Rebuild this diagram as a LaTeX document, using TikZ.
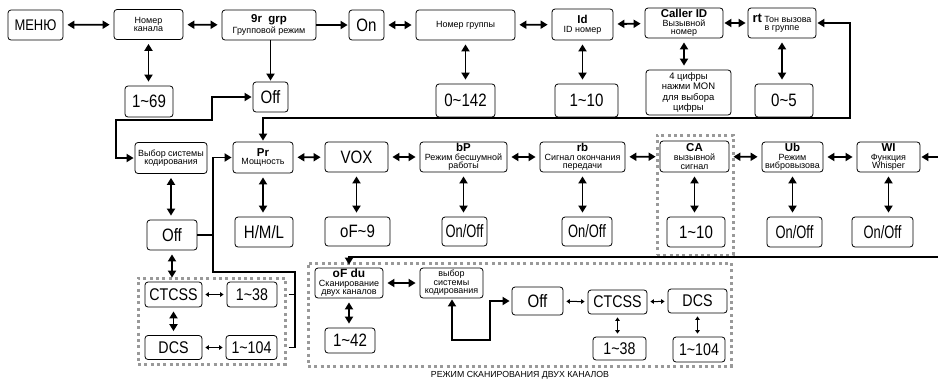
\documentclass[tikz,border=0pt]{standalone}
\usepackage{fontspec}
\setmainfont{Liberation Sans}
\newfontfamily\nf[FakeStretch=0.84]{Liberation Sans}
\newfontfamily\nfn[FakeStretch=0.72]{Liberation Sans}
\usetikzlibrary{arrows.meta}
\newcommand\tl{\char"7E\relax}
\tikzset{
  box/.style={draw, rounded corners=3bp, line width=0.8bp, inner sep=0pt, align=center},
  val/.style={box, font=\nf\fontsize{18}{18}\selectfont},
  nval/.style={box, font=\nfn\fontsize{18}{18}\selectfont},
  sval/.style={box, font=\nf\fontsize{17}{17}\selectfont},
  lbl/.style={box, font=\fontsize{9}{8.6}\selectfont},
  grpbox/.style={draw=gray!80, line width=3bp, dash pattern=on 3bp off 3.3bp, inner sep=0pt},
  conn/.style={line width=1.8bp},
  bi/.style={conn, {Triangle[length=7bp,width=8bp]}-{Triangle[length=7bp,width=8bp]}, shorten <=4bp, shorten >=4bp},
  one/.style={conn, -{Triangle[length=7bp,width=8bp]}, shorten >=1bp},
  sm/.style={line width=1bp, {Triangle[length=3.5bp,width=4.5bp]}-{Triangle[length=3.5bp,width=4.5bp]}, shorten <=3bp, shorten >=3bp},
}
\newcommand\ttl[1]{{\fontsize{11.5}{10}\selectfont\bfseries #1}}
\begin{document}
\begin{tikzpicture}[x=1bp,y=-1bp]
\useasboundingbox[fill=white] (0,0) rectangle (938,379);
% dashed groups
\node[grpbox, minimum width=147bp, minimum height=86bp] (grpL) at (211.5,321) {};
\node[grpbox, minimum width=423bp, minimum height=103bp] (grpB) at (519.5,314.5) {};
\node[grpbox, minimum width=76bp, minimum height=120bp] (grpC) at (695,195) {};
\node[font=\fontsize{8.8}{8}\selectfont, inner sep=0pt] (lblB) at (520,375) {РЕЖИМ СКАНИРОВАНИЯ ДВУХ КАНАЛОВ};
% top row
\node[val, font=\nf\fontsize{15.5}{15}\selectfont, minimum width=55bp, minimum height=30bp] (menu) at (35.5,25) {МЕНЮ};
\node[lbl, minimum width=69bp, minimum height=30bp] (kanal) at (148.5,24.5) {Номер\\канала};
\node[lbl, minimum width=94bp, minimum height=30bp] (grp) at (269,25) {\ttl{9r\ \ grp}\\[1bp]Групповой режим};
\node[val, minimum width=35bp, minimum height=30bp] (on) at (366.5,25) {On};
\node[lbl, minimum width=99bp, minimum height=30bp] (ngr) at (465.5,25) {Номер группы};
\node[lbl, minimum width=61bp, minimum height=31bp] (id) at (582.5,24.5) {\ttl{Id}\\ID номер};
\node[lbl, minimum width=78bp, minimum height=30bp] (caller) at (684,23) {\ttl{Caller ID}\\Вызывной\\номер};
\node[lbl, minimum width=68bp, minimum height=30bp] (rt) at (782,23) {{\fontsize{13}{11}\selectfont\bfseries rt} Тон вызова\\в группе};
% top values
\node[val, minimum width=48bp, minimum height=31bp] (v169) at (149,101.5) {1\tl69};
\node[val, minimum width=35bp, minimum height=30bp] (off1) at (270.5,97) {Off};
\node[val, minimum width=59bp, minimum height=33bp] (v0142) at (465.5,100.5) {0\tl142};
\node[val, minimum width=63bp, minimum height=33bp] (v110) at (586.5,100.5) {1\tl10};
\node[lbl, font=\fontsize{9.5}{10.5}\selectfont, minimum width=85bp, minimum height=45bp] (cifry) at (688.5,92.5) {4 цифры\\нажми MON\\для выбора\\цифры};
\node[val, minimum width=58bp, minimum height=33bp] (v05) at (784,100.5) {0\tl5};
% second row
\node[lbl, minimum width=72bp, minimum height=31bp] (vybor) at (171,158) {Выбор системы\\кодирования};
\node[lbl, minimum width=60bp, minimum height=31bp] (pr) at (263,157.5) {\ttl{Pr}\\Мощность};
\node[val, minimum width=63bp, minimum height=30bp] (vox) at (356.5,157) {VOX};
\node[lbl, minimum width=87bp, minimum height=30bp] (bp) at (463.5,157) {\ttl{bP}\\Режим бесшумной\\работы};
\node[lbl, minimum width=85bp, minimum height=30bp] (rb) at (582.5,157) {\ttl{rb}\\Сигнал окончания\\передачи};
\node[lbl, minimum width=69bp, minimum height=31bp] (ca) at (694.5,156.5) {\ttl{CA}\\вызывной\\сигнал};
\node[lbl, minimum width=61bp, minimum height=30bp] (ub) at (792.5,157) {\ttl{Ub}\\Режим\\вибровызова};
\node[lbl, minimum width=63bp, minimum height=30bp] (wi) at (888.5,157) {\ttl{WI}\\Функция\\Whisper};
% second row values
\node[val, minimum width=50bp, minimum height=30bp] (off2) at (172,235) {Off};
\node[val, minimum width=58bp, minimum height=30bp] (hml) at (264,232) {H/M/L};
\node[val, minimum width=65bp, minimum height=29bp] (of9) at (357.5,231.5) {oF\tl9};
\node[nval, minimum width=45bp, minimum height=29bp] (onoff1) at (464.5,231.5) {On/Off};
\node[nval, minimum width=50bp, minimum height=29bp] (onoff2) at (587,231.5) {On/Off};
\node[val, minimum width=58bp, minimum height=30bp] (v110b) at (696,232) {1\tl10};
\node[nval, minimum width=55bp, minimum height=30bp] (onoff3) at (794.5,232) {On/Off};
\node[nval, minimum width=61bp, minimum height=30bp] (onoff4) at (882.5,232) {On/Off};
% left group
\node[sval, minimum width=57bp, minimum height=25bp] (ctcss1) at (173.5,294.5) {CTCSS};
\node[sval, minimum width=50bp, minimum height=25bp] (v138a) at (252,294.5) {1\tl38};
\node[sval, minimum width=57bp, minimum height=24bp] (dcs1) at (173.5,347.5) {DCS};
\node[sval, minimum width=51bp, minimum height=24bp] (v1104a) at (251.5,347.5) {1\tl104};
% bottom group
\node[lbl, minimum width=68bp, minimum height=30bp] (ofdu) at (349,283) {{\fontsize{12}{10}\selectfont\bfseries oF du}\\Сканирование\\двух каналов};
\node[lbl, minimum width=63bp, minimum height=30bp] (vybor2) at (451.5,283) {выбор\\системы\\кодирования};
\node[val, minimum width=50bp, minimum height=25bp] (v142) at (350,340.5) {1\tl42};
\node[val, minimum width=51bp, minimum height=28bp] (off3) at (537.5,301) {Off};
\node[sval, minimum width=59bp, minimum height=24bp] (ctcss2) at (617.5,302) {CTCSS};
\node[sval, minimum width=59bp, minimum height=24bp] (dcs2) at (697.5,301) {DCS};
\node[sval, minimum width=53bp, minimum height=23bp] (v138b) at (619.5,348.5) {1\tl38};
\node[sval, minimum width=52bp, minimum height=25bp] (v1104b) at (699,349.5) {1\tl104};
% coordinates
\coordinate (r1) at (850,118);
\coordinate (c2) at (212,120);
\coordinate (c3) at (116,120);
\coordinate (j1) at (295,272);
\coordinate (j2) at (213,272);
\coordinate (e1) at (938,157);
\coordinate (e2) at (938,257);
\coordinate (b1) at (452,340);
\coordinate (b2) at (490,340);
% top row connectors
\draw[bi] (menu) -- (kanal);
\draw[bi] (kanal) -- (grp);
\draw[one] (grp.east) -- (on.west);
\draw[bi] (on) -- (ngr);
\draw[bi] (ngr) -- (id);
\draw[bi] (id) -- (caller);
\draw[bi, shorten <=1bp, shorten >=2bp] (caller) -- (rt);
\draw[bi] (kanal.south) -- (kanal.south |- v169.north);
\draw[one] (off1.north |- grp.south) -- (off1.north);
\draw[bi] (ngr.south) -- (ngr.south |- v0142.north);
\draw[bi] (id.south) -- (id.south |- v110.north);
\draw[bi] (caller.south) -- (caller.south |- cifry.north);
\draw[bi] (rt.south) -- (rt.south |- v05.north);
\draw[bi, shorten <=1bp, shorten >=1bp] (rt.east) -| (r1) -| (pr.north);
\draw[bi, shorten <=1bp, shorten >=1bp] (off1.west) -| (c2) -- (c3) |- (vybor.west);
% second row connectors
\draw[bi] (pr) -- (vox);
\draw[bi] (vox) -- (bp);
\draw[bi] (bp) -- (rb);
\draw[bi] (rb) -- (ca);
\draw[bi] (ca) -- (ub);
\draw[bi] (ub) -- (wi);
\draw[one] (e1) -- (wi.east);
\draw[bi] (vybor.south) -- (vybor.south |- off2.north);
\draw[bi] (off2.south) -- (off2.south |- ctcss1.north);
\draw[bi] (ctcss1.south) -- (ctcss1.south |- dcs1.north);
\draw[bi] (pr.south) -- (pr.south |- hml.north);
\draw[bi] (vox.south) -- (vox.south |- of9.north);
\draw[bi] (bp.south) -- (bp.south |- onoff1.north);
\draw[bi] (rb.south) -- (rb.south |- onoff2.north);
\draw[bi] (ca.south) -- (ca.south |- v110b.north);
\draw[bi] (ub.south) -- (ub.south |- onoff3.north);
\draw[bi] (wi.south) -- (wi.south |- onoff4.north);
\draw[sm] (ctcss1) -- (v138a);
\draw[sm] (dcs1) -- (v1104a);
\draw[one] ([xshift=2bp]grpL.east |- v1104a) -| (j1) -- (j2) |- (pr.west);
\draw[conn] ([xshift=2bp]grpL.east |- v138a) -- (j1 |- v138a);
\draw[conn] (off2.east) -- (off2.east -| j2);
\draw[one, shorten >=3bp] (e2) -| (ofdu.north);
% bottom group connectors
\draw[bi] (ofdu) -- (vybor2);
\draw[bi] (ofdu.south) -- (ofdu.south |- v142.north);
\draw[bi, shorten <=1bp, shorten >=2bp] (vybor2.south -| b1) -- (b1) -- (b2) |- (off3.west);
\draw[sm] (off3) -- (ctcss2);
\draw[sm] (ctcss2) -- (dcs2);
\draw[sm] (ctcss2.south) -- (ctcss2.south |- v138b.north);
\draw[sm] (dcs2.south) -- (dcs2.south |- v1104b.north);
\end{tikzpicture}
\end{document}
